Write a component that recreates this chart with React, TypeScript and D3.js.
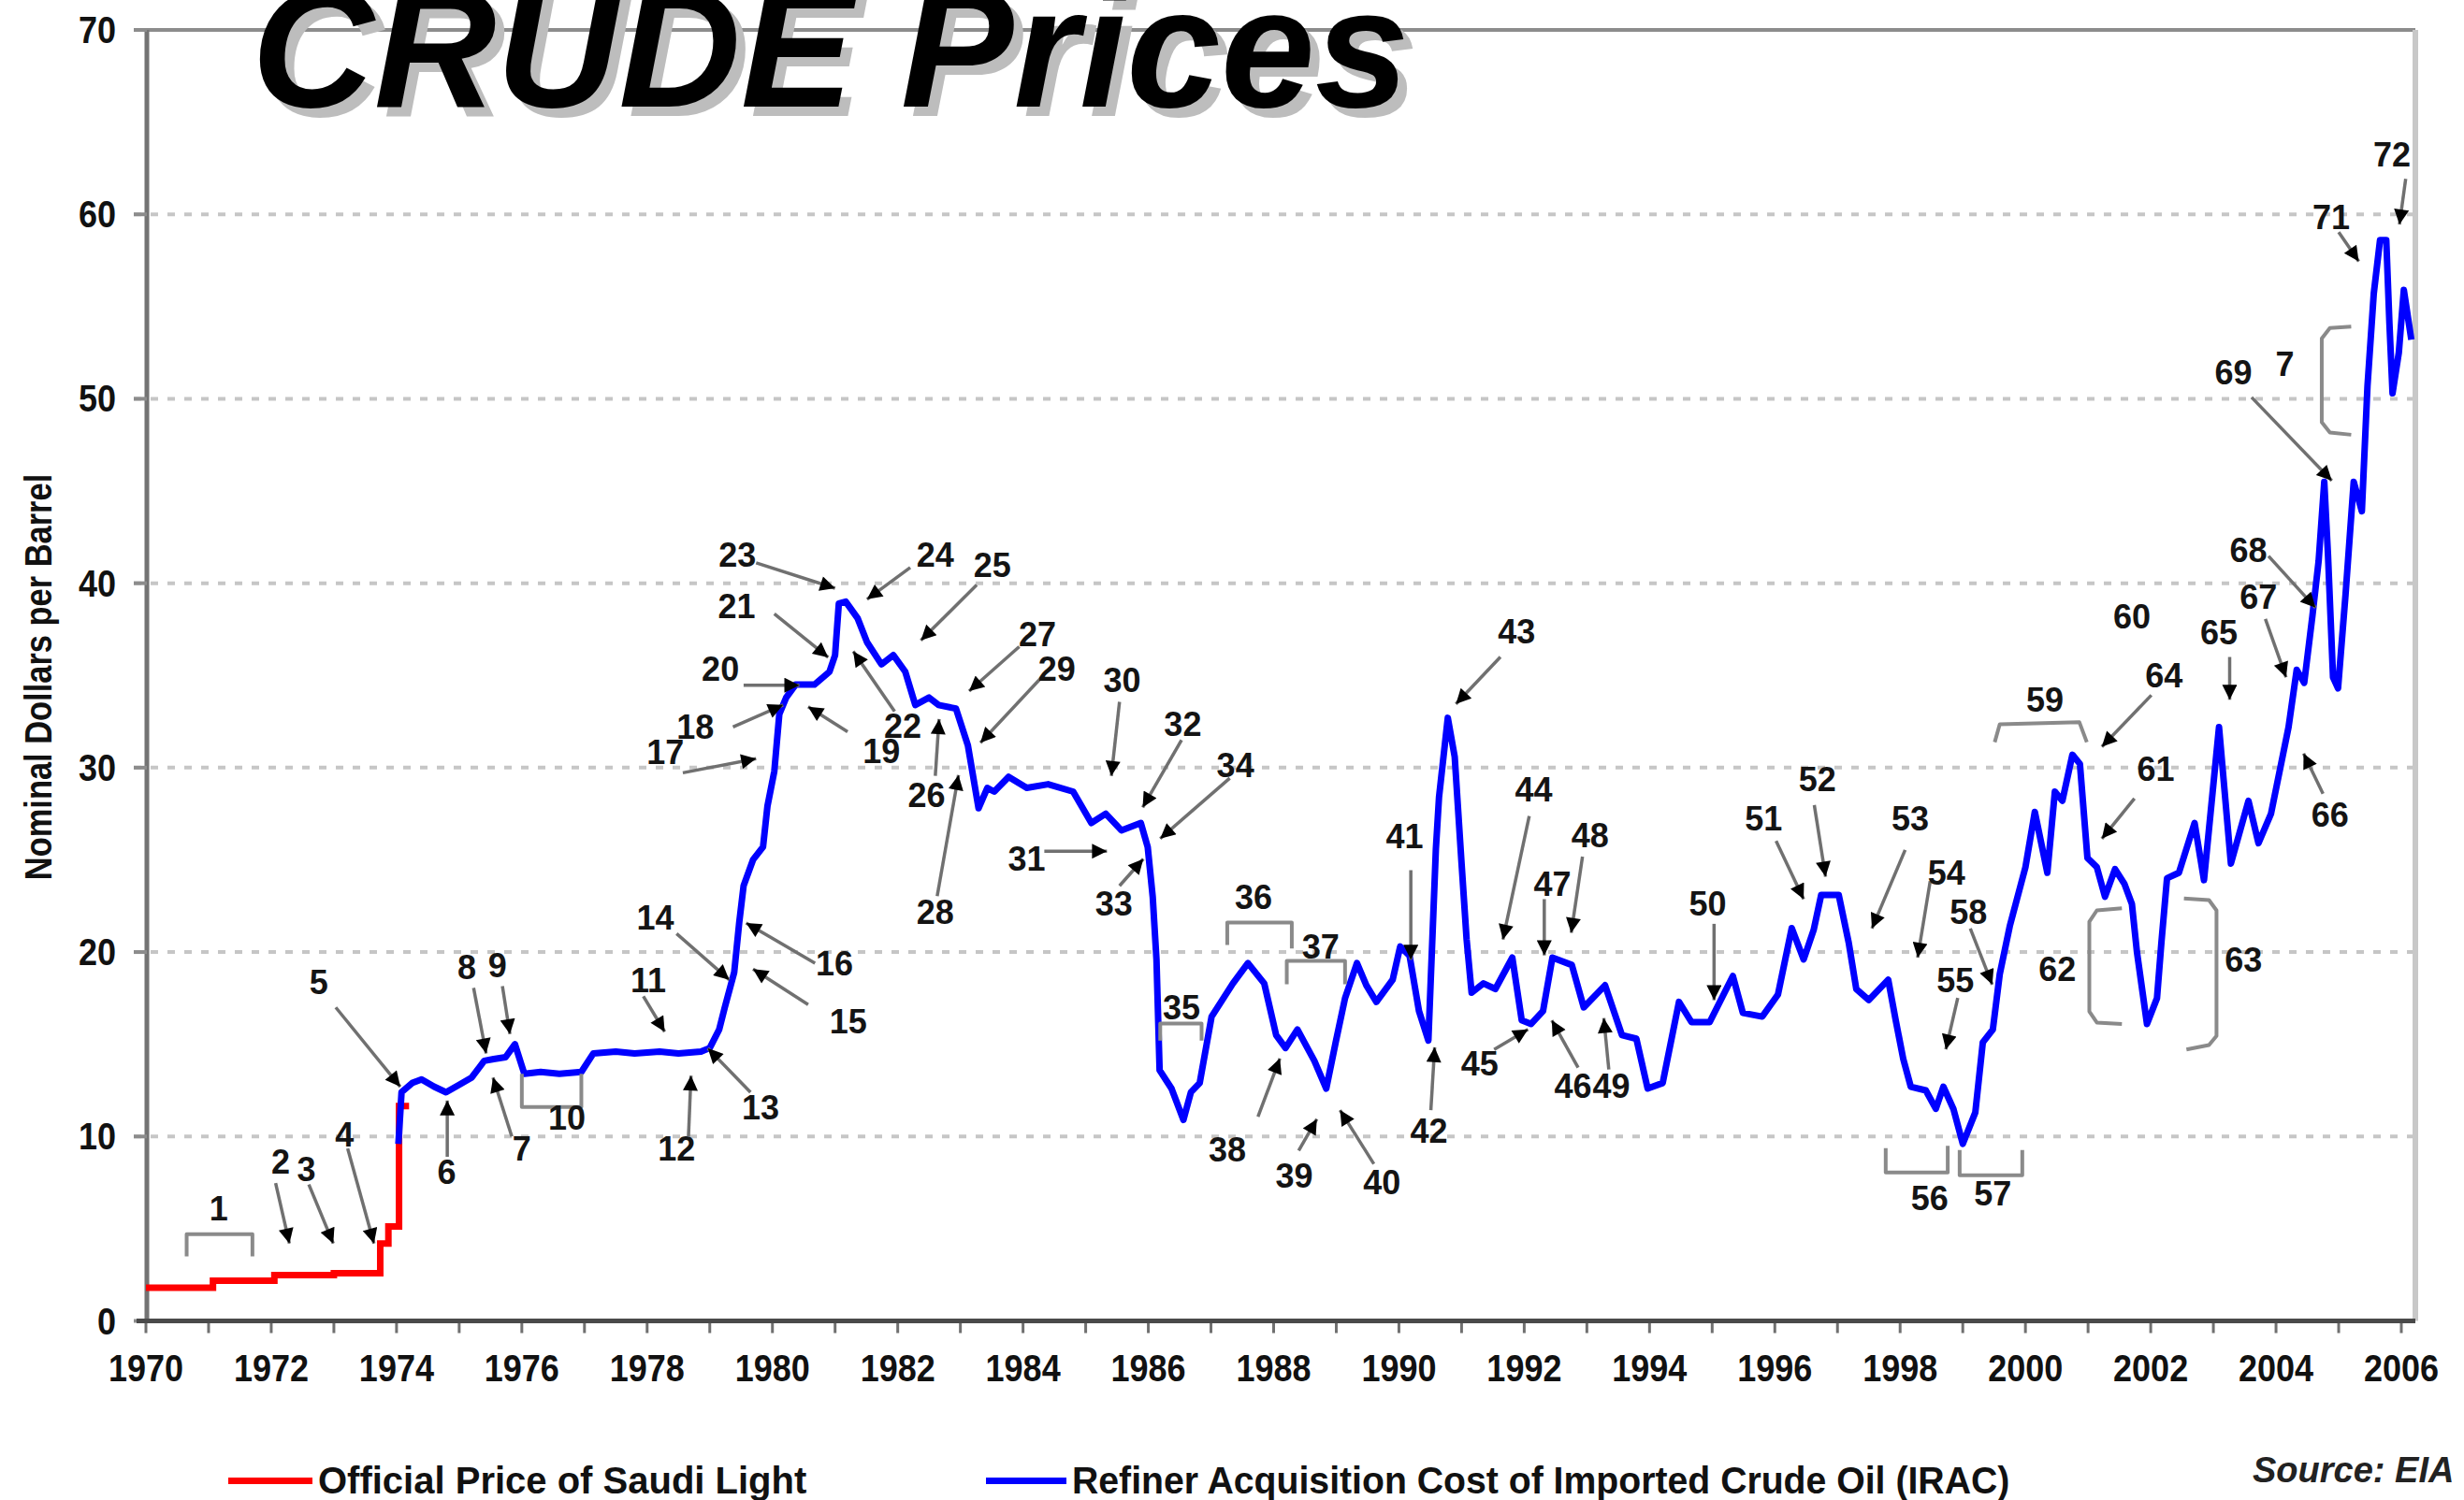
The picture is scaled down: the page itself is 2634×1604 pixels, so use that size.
import React, { useEffect, useRef } from 'react';
import * as d3 from 'd3';

type Pt = [number, number];

// Official Price of Saudi Light (step changes: year, $/bbl)
const saudiLight: Pt[] = [
  [1970.0, 1.8], [1971.07, 2.18], [1972.05, 2.48], [1973.0, 2.59],
  [1973.74, 4.2], [1973.87, 5.12], [1974.04, 11.65], [1974.2, 11.65],
];

// Refiner Acquisition Cost of Imported Crude Oil (IRAC)
const irac: Pt[] = [
  [1974.03, 9.6], [1974.08, 12.4], [1974.25, 12.9], [1974.4, 13.1], [1974.6, 12.7], [1974.79, 12.4],
  [1975.0, 12.8], [1975.2, 13.2], [1975.4, 14.1], [1975.55, 14.2], [1975.74, 14.3], [1975.89, 15.0],
  [1976.04, 13.4], [1976.3, 13.5], [1976.6, 13.4], [1976.95, 13.5], [1977.14, 14.5], [1977.5, 14.6],
  [1977.8, 14.5], [1978.2, 14.6], [1978.5, 14.5], [1978.86, 14.6], [1979.0, 14.8], [1979.15, 15.8],
  [1979.24, 17.0], [1979.39, 18.9], [1979.47, 21.6], [1979.54, 23.6], [1979.69, 25.0], [1979.85, 25.7],
  [1979.92, 27.9], [1980.03, 29.8], [1980.11, 32.9], [1980.22, 33.8], [1980.37, 34.5], [1980.67, 34.5],
  [1980.91, 35.2], [1981.0, 36.1], [1981.06, 38.9], [1981.17, 39.0], [1981.36, 38.1], [1981.51, 36.8],
  [1981.74, 35.6], [1981.93, 36.1], [1982.12, 35.2], [1982.28, 33.4], [1982.5, 33.8], [1982.65, 33.4],
  [1982.93, 33.2], [1983.12, 31.2], [1983.29, 27.8], [1983.43, 28.9], [1983.54, 28.7], [1983.77, 29.5],
  [1984.06, 28.9], [1984.4, 29.1], [1984.8, 28.7], [1985.09, 27.0], [1985.32, 27.5], [1985.57, 26.6],
  [1985.88, 27.0], [1985.99, 25.7], [1986.07, 23.0], [1986.13, 19.6], [1986.18, 13.6], [1986.37, 12.6],
  [1986.56, 10.9], [1986.68, 12.4], [1986.82, 12.9], [1987.01, 16.5], [1987.35, 18.3], [1987.59, 19.4],
  [1987.85, 18.3], [1988.04, 15.5], [1988.19, 14.8], [1988.38, 15.8], [1988.65, 14.1], [1988.84, 12.6],
  [1988.99, 15.1], [1989.14, 17.5], [1989.33, 19.4], [1989.48, 18.2], [1989.64, 17.3], [1989.9, 18.5],
  [1990.02, 20.3], [1990.17, 19.8], [1990.32, 16.8], [1990.47, 15.2], [1990.59, 25.6], [1990.64, 28.4],
  [1990.78, 32.7], [1990.89, 30.6], [1991.0, 24.8], [1991.08, 20.7], [1991.16, 17.8], [1991.35, 18.3],
  [1991.54, 18.0], [1991.81, 19.7], [1991.96, 16.3], [1992.11, 16.1], [1992.3, 16.8], [1992.45, 19.7],
  [1992.76, 19.3], [1992.95, 17.0], [1993.29, 18.2], [1993.56, 15.5], [1993.79, 15.3], [1993.97, 12.6],
  [1994.21, 12.9], [1994.47, 17.3], [1994.67, 16.2], [1994.96, 16.2], [1995.33, 18.7], [1995.49, 16.7],
  [1995.8, 16.5], [1996.05, 17.7], [1996.27, 21.3], [1996.46, 19.6], [1996.62, 21.2], [1996.74, 23.1],
  [1997.02, 23.1], [1997.18, 20.5], [1997.3, 18.0], [1997.5, 17.4], [1997.81, 18.5], [1997.93, 16.3],
  [1998.05, 14.2], [1998.17, 12.7], [1998.41, 12.5], [1998.57, 11.5], [1998.69, 12.7], [1998.85, 11.5],
  [1999.0, 9.6], [1999.2, 11.3], [1999.32, 15.1], [1999.48, 15.8], [1999.59, 18.8], [1999.75, 21.4],
  [2000.0, 24.6], [2000.15, 27.6], [2000.35, 24.3], [2000.47, 28.7], [2000.59, 28.2], [2000.75, 30.7],
  [2000.87, 30.2], [2000.99, 25.1], [2001.14, 24.6], [2001.27, 23.0], [2001.43, 24.5], [2001.58, 23.7],
  [2001.7, 22.6], [2001.78, 20.0], [2001.94, 16.1], [2002.1, 17.5], [2002.17, 20.5], [2002.26, 24.0],
  [2002.45, 24.3], [2002.7, 27.0], [2002.85, 23.9], [2003.09, 32.2], [2003.28, 24.8], [2003.56, 28.2],
  [2003.72, 25.9], [2003.92, 27.5], [2004.2, 32.2], [2004.33, 35.3], [2004.45, 34.6], [2004.58, 38.2],
  [2004.68, 41.2], [2004.77, 45.5], [2004.83, 41.5], [2004.91, 34.9], [2004.99, 34.3], [2005.11, 39.4],
  [2005.24, 45.5], [2005.37, 43.9], [2005.46, 50.7], [2005.56, 55.7], [2005.66, 58.6], [2005.76, 58.6],
  [2005.81, 54.1], [2005.86, 50.3], [2005.96, 52.5], [2006.04, 55.9], [2006.16, 53.2],
];

const yTicks = [0, 10, 20, 30, 40, 50, 60, 70];
const yearLabels = d3.range(1970, 2007, 2);
const yearTicks = d3.range(1970, 2007, 1);

// numbered event notes, in data units (year, $/bbl)
const arrowNotes: { label: string; at: Pt; from: Pt; to: Pt }[] = [
  { label: '2', at: [1972.15, 8.65], from: [1972.07, 7.47], to: [1972.29, 4.2] },
  { label: '3', at: [1972.56, 8.23], from: [1972.6, 7.4], to: [1972.99, 4.2] },
  { label: '4', at: [1973.17, 10.1], from: [1973.22, 9.35], to: [1973.64, 4.2] },
  { label: '5', at: [1972.76, 18.4], from: [1973.03, 17.0], to: [1974.06, 12.7] },
  { label: '6', at: [1974.8, 8.1], from: [1974.81, 8.9], to: [1974.81, 11.95] },
  { label: '7', at: [1976.0, 9.33], from: [1975.84, 10.0], to: [1975.54, 13.2] },
  { label: '8', at: [1975.12, 19.2], from: [1975.23, 18.06], to: [1975.43, 14.5] },
  { label: '9', at: [1975.61, 19.3], from: [1975.69, 18.15], to: [1975.81, 15.55] },
  { label: '11', at: [1978.02, 18.5], from: [1977.94, 17.6], to: [1978.28, 15.68] },
  { label: '12', at: [1978.47, 9.33], from: [1978.66, 10.0], to: [1978.7, 13.3] },
  { label: '13', at: [1979.81, 11.6], from: [1979.65, 12.4], to: [1978.97, 14.78] },
  { label: '14', at: [1978.13, 21.9], from: [1978.47, 21.0], to: [1979.31, 18.5] },
  { label: '15', at: [1981.21, 16.25], from: [1980.57, 17.15], to: [1979.69, 19.08] },
  { label: '16', at: [1980.99, 19.4], from: [1980.68, 19.4], to: [1979.58, 21.57] },
  { label: '17', at: [1978.29, 30.84], from: [1978.57, 29.72], to: [1979.74, 30.49] },
  { label: '18', at: [1978.77, 32.2], from: [1979.37, 32.2], to: [1980.17, 33.4] },
  { label: '19', at: [1981.74, 30.92], from: [1981.2, 31.95], to: [1980.57, 33.3] },
  { label: '20', at: [1979.17, 35.38], from: [1979.54, 34.47], to: [1980.43, 34.47] },
  { label: '21', at: [1979.43, 38.77], from: [1980.03, 38.34], to: [1980.89, 35.98] },
  { label: '22', at: [1982.08, 32.27], from: [1981.95, 33.05], to: [1981.29, 36.3] },
  { label: '23', at: [1979.44, 41.57], from: [1979.74, 41.1], to: [1981.0, 39.73] },
  { label: '24', at: [1982.6, 41.57], from: [1982.2, 40.85], to: [1981.51, 39.13] },
  { label: '25', at: [1983.51, 41.0], from: [1983.26, 39.9], to: [1982.37, 36.9] },
  { label: '26', at: [1982.46, 28.5], from: [1982.6, 29.55], to: [1982.66, 32.63] },
  { label: '27', at: [1984.23, 37.26], from: [1983.94, 36.56], to: [1983.14, 34.15] },
  { label: '28', at: [1982.6, 22.17], from: [1982.63, 23.03], to: [1982.97, 29.6] },
  { label: '29', at: [1984.54, 35.38], from: [1984.29, 34.87], to: [1983.32, 31.35] },
  { label: '30', at: [1985.58, 34.78], from: [1985.54, 33.57], to: [1985.41, 29.55] },
  { label: '31', at: [1984.06, 25.09], from: [1984.34, 25.47], to: [1985.34, 25.47] },
  { label: '32', at: [1986.55, 32.35], from: [1986.53, 31.5], to: [1985.91, 27.85] },
  { label: '33', at: [1985.45, 22.62], from: [1985.54, 23.59], to: [1985.92, 25.05] },
  { label: '34', at: [1987.39, 30.16], from: [1987.3, 29.43], to: [1986.19, 26.15] },
  { label: '38', at: [1987.26, 9.29], from: [1987.75, 11.07], to: [1988.1, 14.23] },
  { label: '39', at: [1988.33, 7.9], from: [1988.4, 9.24], to: [1988.69, 10.94] },
  { label: '40', at: [1989.73, 7.54], from: [1989.6, 8.51], to: [1989.06, 11.43] },
  { label: '41', at: [1990.09, 26.27], from: [1990.19, 24.44], to: [1990.19, 19.58] },
  { label: '42', at: [1990.48, 10.34], from: [1990.51, 11.43], to: [1990.57, 14.84] },
  { label: '43', at: [1991.88, 37.41], from: [1991.62, 36.0], to: [1990.91, 33.45] },
  { label: '44', at: [1992.15, 28.82], from: [1992.08, 27.37], to: [1991.66, 20.68] },
  { label: '45', at: [1991.29, 13.98], from: [1991.52, 14.72], to: [1992.06, 15.81] },
  { label: '46', at: [1992.78, 12.77], from: [1992.86, 13.74], to: [1992.44, 16.3] },
  { label: '47', at: [1992.45, 23.72], from: [1992.32, 22.87], to: [1992.32, 19.82] },
  { label: '48', at: [1993.05, 26.32], from: [1992.93, 25.17], to: [1992.75, 21.04] },
  { label: '49', at: [1993.39, 12.77], from: [1993.35, 13.63], to: [1993.27, 16.42] },
  { label: '50', at: [1994.93, 22.62], from: [1995.03, 21.53], to: [1995.03, 17.39] },
  { label: '51', at: [1995.82, 27.24], from: [1996.02, 26.03], to: [1996.46, 22.87] },
  { label: '52', at: [1996.68, 29.38], from: [1996.63, 27.97], to: [1996.81, 24.09] },
  { label: '53', at: [1998.16, 27.24], from: [1998.08, 25.54], to: [1997.55, 21.28] },
  { label: '54', at: [1998.74, 24.32], from: [1998.48, 23.84], to: [1998.28, 19.7] },
  { label: '55', at: [1998.88, 18.49], from: [1998.92, 17.51], to: [1998.73, 14.72] },
  { label: '58', at: [1999.09, 22.18], from: [1999.12, 21.28], to: [1999.47, 18.24] },
  { label: '61', at: [2002.08, 29.92], from: [2001.74, 28.33], to: [2001.22, 26.15] },
  { label: '64', at: [2002.21, 35.03], from: [2002.01, 33.93], to: [2001.22, 31.13] },
  { label: '65', at: [2003.09, 37.34], from: [2003.26, 36.0], to: [2003.26, 33.68] },
  { label: '66', at: [2004.86, 27.48], from: [2004.75, 28.58], to: [2004.44, 30.77] },
  { label: '67', at: [2003.72, 39.28], from: [2003.83, 38.06], to: [2004.16, 34.9] },
  { label: '68', at: [2003.56, 41.83], from: [2003.88, 41.47], to: [2004.63, 38.67] },
  { label: '69', at: [2003.32, 51.44], from: [2003.61, 50.08], to: [2004.89, 45.56] },
  { label: '71', at: [2004.88, 59.84], from: [2005.0, 59.04], to: [2005.32, 57.45] },
  { label: '72', at: [2005.85, 63.23], from: [2006.07, 61.93], to: [2005.97, 59.45] },
];

const bracketNotes: { label: string; at: Pt; path: Pt[] }[] = [
  { label: '1', at: [1971.16, 6.1], path: [[1970.65, 3.5], [1970.65, 4.7], [1971.7, 4.7], [1971.7, 3.5]] },
  { label: '10', at: [1976.72, 11.04], path: [[1976.0, 13.4], [1976.0, 11.6], [1976.95, 11.6], [1976.95, 13.4]] },
  { label: '35', at: [1986.53, 17.03], path: [[1986.19, 15.2], [1986.19, 16.12], [1986.85, 16.12], [1986.85, 15.2]] },
  { label: '36', at: [1987.68, 22.98], path: [[1987.26, 20.38], [1987.26, 21.6], [1988.29, 21.6], [1988.29, 20.2]] },
  { label: '37', at: [1988.75, 20.33], path: [[1988.21, 18.25], [1988.21, 19.52], [1989.14, 19.52], [1989.14, 18.25]] },
  { label: '56', at: [1998.47, 6.68], path: [[1997.77, 9.37], [1997.77, 8.05], [1998.76, 8.05], [1998.76, 9.49]] },
  { label: '57', at: [1999.48, 6.93], path: [[1998.95, 9.27], [1998.95, 7.9], [1999.95, 7.9], [1999.95, 9.27]] },
  { label: '59', at: [2000.31, 33.68], path: [[1999.51, 31.38], [1999.59, 32.35], [2000.86, 32.47], [2000.98, 31.38]] },
  { label: '62', at: [2000.51, 19.1], path: [[2001.54, 22.37], [2001.14, 22.26], [2001.02, 21.65], [2001.02, 16.78], [2001.14, 16.18], [2001.54, 16.1]] },
  { label: '63', at: [2003.48, 19.58], path: [[2002.53, 22.91], [2002.93, 22.82], [2003.05, 22.26], [2003.05, 15.45], [2002.93, 14.96], [2002.57, 14.72]] },
  { label: '7', at: [2004.14, 51.92], path: [[2005.2, 53.91], [2004.86, 53.84], [2004.73, 53.27], [2004.73, 48.73], [2004.86, 48.17], [2005.2, 48.05]] },
];

const textNotes: { label: string; at: Pt }[] = [{ label: '60', at: [2001.7, 38.19] }];

const W = 2634;
const H = 1604;
const FONT = '"Liberation Sans", Arial, sans-serif';

const CrudeChart: React.FC = () => {
  const svgRef = useRef<SVGSVGElement>(null);

  useEffect(() => {
    if (!svgRef.current) return;
    d3.select(svgRef.current).selectAll('*').remove();
    const svg = d3.select(svgRef.current);

    const x = d3.scaleLinear().domain([1970, 2006]).range([156, 2567]);
    const y = d3.scaleLinear().domain([0, 70]).range([1412.5, 32]);
    const left = 157;
    const right = 2582;

    svg.append('rect').attr('width', W).attr('height', H).attr('fill', '#fff');

    const defs = svg.append('defs');
    defs.append('marker')
      .attr('id', 'ah')
      .attr('viewBox', '0 0 10 10')
      .attr('refX', 10)
      .attr('refY', 5)
      .attr('markerWidth', 19)
      .attr('markerHeight', 16)
      .attr('markerUnits', 'userSpaceOnUse')
      .attr('orient', 'auto')
      .append('path')
      .attr('d', 'M0,0 L10,5 L0,10 z')
      .attr('fill', '#000');

    // gridlines
    yTicks.filter(t => t > 0 && t < 70).forEach(t => {
      svg.append('line')
        .attr('x1', 143).attr('x2', right)
        .attr('y1', y(t)).attr('y2', y(t))
        .attr('stroke', '#c6c6c6')
        .attr('stroke-width', 4)
        .attr('stroke-dasharray', '8 10');
    });
    // frame
    svg.append('line').attr('x1', 143).attr('x2', right).attr('y1', y(70)).attr('y2', y(70))
      .attr('stroke', '#8c8c8c').attr('stroke-width', 4);
    svg.append('line').attr('x1', right).attr('x2', right).attr('y1', y(70)).attr('y2', y(0))
      .attr('stroke', '#c8c8c8').attr('stroke-width', 6);
    svg.append('line').attr('x1', left).attr('x2', left).attr('y1', y(70)).attr('y2', y(0))
      .attr('stroke', '#737373').attr('stroke-width', 5);
    yTicks.forEach(t => {
      svg.append('line').attr('x1', 143).attr('x2', left).attr('y1', y(t)).attr('y2', y(t))
        .attr('stroke', '#8c8c8c').attr('stroke-width', 4);
    });

    // y tick labels
    yTicks.forEach(t => {
      svg.append('text')
        .attr('transform', `translate(124,${y(t) + 14}) scale(0.9,1)`)
        .attr('text-anchor', 'end')
        .attr('font-family', FONT)
        .attr('font-weight', 'bold')
        .attr('font-size', 40)
        .attr('fill', '#111')
        .text(t);
    });

    // x axis
    yearTicks.forEach(t => {
      svg.append('line').attr('x1', x(t)).attr('x2', x(t)).attr('y1', y(0)).attr('y2', y(0) + 13)
        .attr('stroke', '#707070').attr('stroke-width', 3);
    });
    svg.append('line').attr('x1', 146).attr('x2', right).attr('y1', y(0)).attr('y2', y(0))
      .attr('stroke', '#4a4a4a').attr('stroke-width', 5);
    yearLabels.forEach(t => {
      svg.append('text')
        .attr('transform', `translate(${x(t)},1477) scale(0.9,1)`)
        .attr('text-anchor', 'middle')
        .attr('font-family', FONT)
        .attr('font-weight', 'bold')
        .attr('font-size', 40)
        .attr('fill', '#111')
        .text(t);
    });

    // y axis title
    svg.append('text')
      .attr('transform', 'translate(55,724) rotate(-90) scale(0.84,1)')
      .attr('text-anchor', 'middle')
      .attr('font-family', FONT)
      .attr('font-weight', 'bold')
      .attr('font-size', 41)
      .attr('fill', '#111')
      .text('Nominal Dollars per Barrel');

    // series
    const line = d3.line<Pt>().x(d => x(d[0])).y(d => y(d[1]));
    svg.append('path')
      .attr('d', line.curve(d3.curveStepAfter)(saudiLight) as string)
      .attr('fill', 'none').attr('stroke', '#ff0000').attr('stroke-width', 7);
    svg.append('path')
      .attr('d', line.curve(d3.curveLinear)(irac) as string)
      .attr('fill', 'none').attr('stroke', '#0000ff').attr('stroke-width', 7)
      .attr('stroke-linejoin', 'round');

    // notes
    const notes = svg.append('g');
    const noteText = (label: string, at: Pt) => {
      notes.append('text')
        .attr('x', x(at[0]))
        .attr('y', y(at[1]))
        .attr('dy', '0.36em')
        .attr('text-anchor', 'middle')
        .attr('font-family', FONT)
        .attr('font-weight', 'bold')
        .attr('font-size', 36)
        .attr('fill', '#141414')
        .text(label);
    };
    const bracketLine = d3.line<Pt>().x(d => x(d[0])).y(d => y(d[1]));
    bracketNotes.forEach(b => {
      notes.append('path')
        .attr('d', bracketLine(b.path) as string)
        .attr('fill', 'none')
        .attr('stroke', '#8a8a8a')
        .attr('stroke-width', 4)
        .attr('stroke-linejoin', 'round');
      noteText(b.label, b.at);
    });
    arrowNotes.forEach(a => {
      notes.append('line')
        .attr('x1', x(a.from[0])).attr('y1', y(a.from[1]))
        .attr('x2', x(a.to[0])).attr('y2', y(a.to[1]))
        .attr('stroke', '#707070')
        .attr('stroke-width', 3.5)
        .attr('marker-end', 'url(#ah)');
      noteText(a.label, a.at);
    });
    textNotes.forEach(t => noteText(t.label, t.at));

    // title with drop shadow
    const title = svg.append('g')
      .attr('font-family', FONT)
      .attr('font-weight', 'bold')
      .attr('font-style', 'italic')
      .attr('font-size', 181);
    title.append('text').attr('x', 279).attr('y', 124).attr('fill', '#bdbdbd').text('CRUDE Prices');
    title.append('text').attr('x', 269).attr('y', 114).attr('fill', '#000').text('CRUDE Prices');

    // legend
    const legend = svg.append('g').attr('font-family', FONT).attr('font-weight', 'bold').attr('font-size', 40);
    legend.append('line').attr('x1', 244).attr('x2', 334).attr('y1', 1583.5).attr('y2', 1583.5)
      .attr('stroke', '#ff0000').attr('stroke-width', 7);
    legend.append('text').attr('x', 340).attr('y', 1597).attr('fill', '#111').text('Official Price of Saudi Light');
    legend.append('line').attr('x1', 1054).attr('x2', 1140).attr('y1', 1583.5).attr('y2', 1583.5)
      .attr('stroke', '#0000ff').attr('stroke-width', 7);
    legend.append('text')
      .attr('transform', 'translate(1146,1597) scale(0.98,1)')
      .attr('fill', '#111')
      .text('Refiner Acquisition Cost of Imported Crude Oil (IRAC)');

    svg.append('text')
      .attr('x', 2408).attr('y', 1585)
      .attr('font-family', FONT)
      .attr('font-weight', 'bold')
      .attr('font-style', 'italic')
      .attr('font-size', 38)
      .attr('fill', '#222')
      .text('Source: EIA');
  }, []);

  return (
    <svg
      ref={svgRef}
      width={W}
      height={H}
      style={{ position: 'absolute', left: 0, top: 0, display: 'block' }}
    ></svg>
  );
};

export default function App() {
  return <CrudeChart />;
}
